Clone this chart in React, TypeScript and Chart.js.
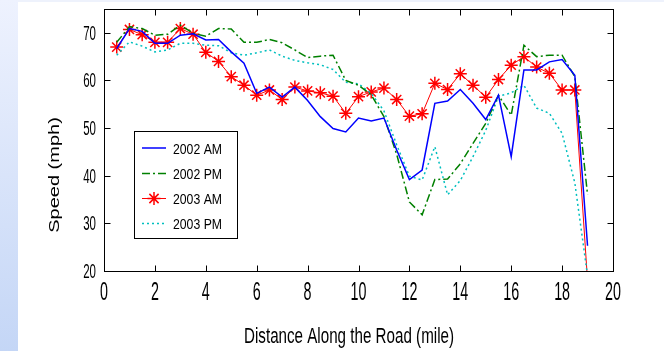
import React, { useEffect, useRef } from "react";
import { Chart, registerables } from "chart.js";

Chart.register(...registerables);

const miles = [0.5, 1, 1.5, 2, 2.5, 3, 3.5, 4, 4.5, 5, 5.5, 6, 6.5, 7, 7.5, 8, 8.5, 9, 9.5, 10, 10.5, 11, 11.5, 12, 12.5, 13, 13.5, 14, 14.5, 15, 15.5, 16, 16.5, 17, 17.5, 18, 18.5, 19];

const am2002 = [66.7, 70.9, 70.3, 67.8, 67.8, 69.5, 69.8, 68.5, 68.6, 66.0, 63.6, 57.3, 58.6, 56.5, 58.6, 55.8, 52.4, 49.9, 49.2, 52.1, 51.5, 52.1, 45.4, 39.2, 41.2, 55.2, 55.7, 58.1, 55.2, 51.8, 56.9, 44.0, 62.2, 62.2, 63.9, 64.4, 61.1, 25.3];
const pm2002 = [68.0, 71.3, 70.9, 69.5, 69.7, 71.6, 69.9, 69.3, 70.9, 70.8, 68.0, 68.0, 68.6, 67.9, 66.4, 64.8, 65.1, 65.3, 60.0, 59.0, 57.0, 52.4, 44.5, 34.5, 31.8, 39.2, 39.3, 42.5, 46.8, 51.0, 56.9, 52.7, 67.4, 65.0, 65.3, 65.3, 60.8, 36.0];
const am2003 = [67.0, 70.7, 69.6, 68.0, 68.0, 70.9, 69.7, 65.9, 64.0, 60.8, 59.0, 56.9, 58.0, 56.0, 58.6, 57.8, 57.4, 56.7, 53.1, 56.6, 57.6, 58.4, 56.0, 52.5, 53.0, 59.4, 58.1, 61.4, 59.0, 56.5, 60.2, 63.2, 65.0, 62.8, 61.5, 58.0, 58.0, 18.0];
const pm2003 = [65.3, 68.1, 67.2, 66.0, 66.4, 67.8, 67.8, 67.4, 67.3, 65.8, 65.3, 65.8, 66.4, 65.1, 64.2, 63.7, 63.3, 62.3, 59.6, 59.3, 57.3, 53.6, 46.5, 39.9, 39.1, 46.1, 36.0, 39.0, 44.0, 49.5, 56.7, 57.4, 59.0, 54.2, 53.1, 48.9, 38.5, 19.0];

const xTicks = [0, 2, 4, 6, 8, 10, 12, 14, 16, 18, 20];
const yTicks = [20, 30, 40, 50, 60, 70];
const seriesNames = ["2002 AM", "2002 PM", "2003 AM", "2003 PM"];
const xTitle = "Distance Along the Road (mile)";
const yTitle = "Speed (mph)";

const FONT = '"Liberation Sans", Arial, Helvetica, sans-serif';
const BLUE = "#0000ff";
const GREEN = "#008000";
const RED = "#ff0000";
const CYAN = "#00bfbf";
const GREEN_DASH = [8, 3, 2, 3];
const CYAN_DASH = [2, 3];

function squeezedText(
  ctx: CanvasRenderingContext2D,
  text: string,
  x: number,
  y: number,
  size: number,
  sx: number,
  align: CanvasTextAlign,
  baseline: CanvasTextBaseline
) {
  ctx.save();
  ctx.font = `${size}px ${FONT}`;
  ctx.textAlign = align;
  ctx.textBaseline = baseline;
  ctx.fillStyle = "#000";
  ctx.translate(x, y);
  ctx.scale(sx, 1);
  ctx.fillText(text, 0, 0);
  ctx.restore();
}

function drawStar(ctx: CanvasRenderingContext2D, x: number, y: number, r: number) {
  ctx.beginPath();
  ctx.moveTo(x - r, y);
  ctx.lineTo(x + r, y);
  ctx.moveTo(x, y - r);
  ctx.lineTo(x, y + r);
  const d = r * Math.SQRT1_2;
  ctx.moveTo(x - d, y - d);
  ctx.lineTo(x + d, y + d);
  ctx.moveTo(x - d, y + d);
  ctx.lineTo(x + d, y - d);
  ctx.stroke();
}

const matlabAxes = {
  id: "matlabAxes",
  afterDatasetsDraw(chart: any) {
    const ctx: CanvasRenderingContext2D = chart.ctx;
    const { left, right, top, bottom } = chart.chartArea;
    const xs = chart.scales.x;
    const ys = chart.scales.y;
    const L = Math.round(left) + 0.5;
    const R = Math.round(right) + 0.5;
    const T = Math.round(top) + 0.5;
    const B = Math.round(bottom) + 0.5;
    const tl = 6;

    ctx.save();
    ctx.strokeStyle = "#000";
    ctx.lineWidth = 1;
    ctx.setLineDash([]);
    ctx.strokeRect(L, T, R - L, B - T);
    ctx.beginPath();
    xTicks.forEach((v) => {
      const px = Math.round(xs.getPixelForValue(v)) + 0.5;
      ctx.moveTo(px, B);
      ctx.lineTo(px, B - tl);
      ctx.moveTo(px, T);
      ctx.lineTo(px, T + tl);
    });
    yTicks.forEach((v) => {
      const py = Math.round(ys.getPixelForValue(v)) + 0.5;
      ctx.moveTo(L, py);
      ctx.lineTo(L + tl, py);
      ctx.moveTo(R, py);
      ctx.lineTo(R - tl, py);
    });
    ctx.stroke();

    // tick labels
    xTicks.forEach((v) => {
      const px = xs.getPixelForValue(v);
      squeezedText(ctx, String(v), px, 300, 26, 0.55, "center", "alphabetic");
    });
    yTicks.forEach((v) => {
      const py = ys.getPixelForValue(v);
      squeezedText(ctx, String(v), 96, py + 7, 19.5, 0.59, "right", "alphabetic");
    });

    // axis titles
    ctx.save();
    ctx.font = `22px ${FONT}`;
    const tw = ctx.measureText(xTitle).width;
    ctx.restore();
    squeezedText(ctx, xTitle, 349, 343, 22, 210 / tw, "center", "alphabetic");

    ctx.save();
    ctx.font = `20px ${FONT}`;
    ctx.fillStyle = "#000";
    ctx.textAlign = "center";
    ctx.textBaseline = "middle";
    ctx.translate(55, 175);
    ctx.scale(0.7, 1);
    ctx.rotate(-Math.PI / 2);
    ctx.fillText(yTitle, 0, 0);
    ctx.restore();

    // legend
    const bx = 134.5, by = 131.5, bw = 103, bh = 107;
    ctx.fillStyle = "#fff";
    ctx.fillRect(bx, by, bw, bh);
    ctx.strokeStyle = "#000";
    ctx.lineWidth = 1;
    ctx.strokeRect(bx, by, bw, bh);
    const rows = [148, 173.5, 198.5, 223.5];
    const colors = [BLUE, GREEN, RED, CYAN];
    const dashes = [[], GREEN_DASH, [], CYAN_DASH];
    ctx.font = `15.5px ${FONT}`;
    const lw = ctx.measureText(seriesNames[0]).width;
    const lsx = 49 / lw;
    rows.forEach((ry, i) => {
      ctx.save();
      ctx.strokeStyle = colors[i];
      ctx.lineWidth = i === 2 ? 1 : 1.5;
      ctx.setLineDash(dashes[i]);
      ctx.beginPath();
      ctx.moveTo(142, ry);
      ctx.lineTo(166, ry);
      ctx.stroke();
      if (i === 2) {
        ctx.setLineDash([]);
        ctx.lineWidth = 1.5;
        drawStar(ctx, 154, ry, 6.5);
      }
      ctx.restore();
      squeezedText(ctx, seriesNames[i], 173, ry + 5.5, 15.5, lsx, "left", "alphabetic");
    });
    ctx.restore();
  },
};

function pts(values: number[]) {
  return miles.map((m, i) => ({ x: m, y: values[i] }));
}

export default function App() {
  const ref = useRef<HTMLCanvasElement | null>(null);

  useEffect(() => {
    if (!ref.current) return;
    const chart = new Chart(ref.current, {
      type: "line",
      data: {
        datasets: [
          {
            label: seriesNames[0],
            data: pts(am2002),
            borderColor: BLUE,
            borderWidth: 1.5,
            pointRadius: 0,
            clip: 0,
          },
          {
            label: seriesNames[1],
            data: pts(pm2002),
            borderColor: GREEN,
            borderWidth: 1.5,
            borderDash: GREEN_DASH,
            pointRadius: 0,
            clip: 0,
          },
          {
            label: seriesNames[3],
            data: pts(pm2003),
            borderColor: CYAN,
            borderWidth: 1.5,
            borderDash: CYAN_DASH,
            pointRadius: 0,
            clip: 0,
          },
          {
            label: seriesNames[2],
            data: pts(am2003),
            borderColor: RED,
            borderWidth: 1,
            pointStyle: "star",
            pointRadius: 6.5,
            pointBorderWidth: 1.5,
            pointBorderColor: RED,
            pointBackgroundColor: RED,
            clip: 0,
          },
        ],
      } as any,
      options: {
        responsive: false,
        animation: false,
        events: [],
        layout: { padding: { left: 104, right: 51, top: 9, bottom: 80 } },
        elements: { line: { tension: 0 } },
        plugins: {
          legend: { display: false },
          tooltip: { enabled: false },
          title: { display: false },
        },
        scales: {
          x: { type: "linear", min: 0, max: 20, display: false },
          y: { type: "linear", min: 20, max: 75, display: false },
        },
      } as any,
      plugins: [matlabAxes],
    });
    return () => chart.destroy();
  }, []);

  return (
    <div style={{ position: "absolute", left: 0, top: 0, width: 664, height: 351, background: "#fff", overflow: "hidden" }}>
      <div style={{ position: "absolute", left: 0, top: 0, width: 664, height: 2, background: "#eef2fc" }} />
      <div
        style={{
          position: "absolute",
          left: 0,
          top: 0,
          width: 18,
          height: 351,
          background: "linear-gradient(to bottom, #eef2fe, #c4d6f6)",
        }}
      />
      <canvas ref={ref} width={664} height={351} style={{ position: "absolute", left: 0, top: 0 }} />
    </div>
  );
}
